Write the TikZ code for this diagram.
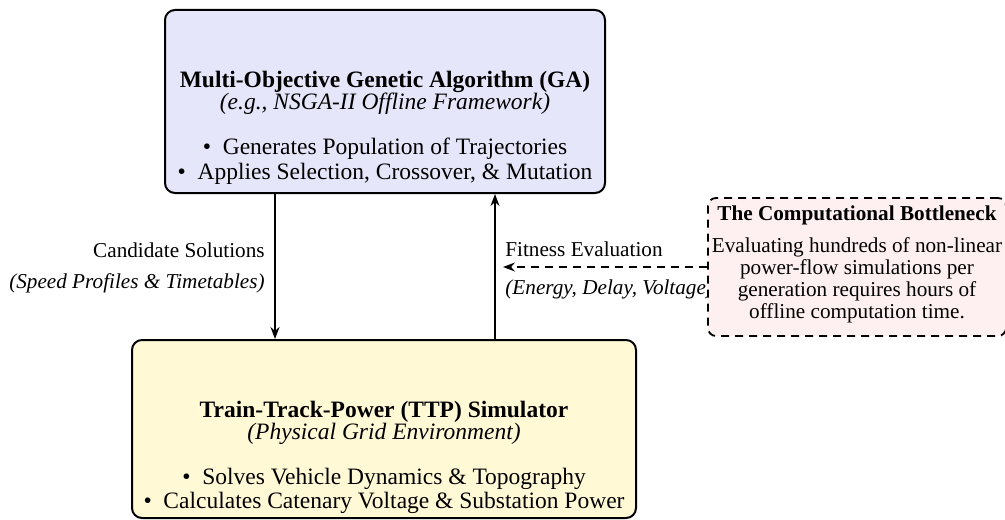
\documentclass[tikz,border=0pt]{standalone}
\usepackage{fontspec}
\setmainfont{Liberation Serif}
\usetikzlibrary{arrows.meta}
\definecolor{gafill}{RGB}{230,230,250}
\definecolor{ttpfill}{RGB}{255,249,214}
\definecolor{bnfill}{RGB}{254,240,240}
\tikzset{
  mainbox/.style={draw=black, line width=1pt, rounded corners=5pt, inner sep=0pt},
  bnbox/.style={draw=black, line width=0.9pt, dash pattern=on 4pt off 3pt, rounded corners=4pt, fill=bnfill, inner sep=0pt},
  bigtxt/.style={font=\fontsize{11.75}{12}\selectfont, inner sep=0pt, anchor=base},
  smalltxt/.style={font=\fontsize{10.6}{11}\selectfont, inner sep=0pt, anchor=base},
  flow/.style={line width=0.8pt, -{Stealth[length=6pt,width=4.5pt]}},
  dflow/.style={line width=0.8pt, dash pattern=on 4pt off 3pt, -{Stealth[length=6pt,width=4.5pt]}},
}
\begin{document}
\begin{tikzpicture}[x=0.5pt,y=-0.5pt]
\useasboundingbox (0,0) rectangle (1005,519);
% GA box
\node[mainbox, fill=gafill, minimum width=220pt, minimum height=91.5pt] (ga) at (385,101.5) {};
\node[bigtxt] (gat) at (385,88) {\textbf{Multi-Objective Genetic Algorithm (GA)}};
\node[bigtxt] (gas) at (385,110) {\textit{(e.g., NSGA-II Offline Framework)}};
\node[bigtxt] (gab1) at (385,155) {\textbullet\ \ Generates Population of Trajectories};
\node[bigtxt] (gab2) at (385,179) {\textbullet\ \ Applies Selection, Crossover, \& Mutation};
% TTP box
\node[mainbox, fill=ttpfill, minimum width=252pt, minimum height=89pt] (ttp) at (384,429) {};
\node[bigtxt] (ttpt) at (384,417) {\textbf{Train-Track-Power (TTP) Simulator}};
\node[bigtxt] (ttps) at (384,439) {\textit{(Physical Grid Environment)}};
\node[bigtxt] (ttpb1) at (384,484) {\textbullet\ \ Solves Vehicle Dynamics \& Topography};
\node[bigtxt] (ttpb2) at (384,508) {\textbullet\ \ Calculates Catenary Voltage \& Substation Power};
% arrows
\coordinate (lx) at (275,0);
\coordinate (rx) at (495,0);
\draw[flow] (ga.south -| lx) -- (ttp.north -| lx);
\draw[flow] (ttp.north -| rx) -- (ga.south -| rx);
% labels
\node[smalltxt, anchor=base east] (cs1) at (265,257) {Candidate Solutions};
\node[smalltxt, anchor=base east] (cs2) at (265,288) {\textit{(Speed Profiles \& Timetables)}};
\node[smalltxt, anchor=base west] (fe1) at (505,256) {Fitness Evaluation};
\node[smalltxt, anchor=base west] (fe2) at (505,294) {\textit{(Energy, Delay, Voltage)}};
% bottleneck box
\node[bnbox, minimum width=149pt, minimum height=69pt] (bn) at (857,267) {};
\node[smalltxt] (bnt) at (857,220) {\textbf{The Computational Bottleneck}};
\node[smalltxt] (bn1) at (857,252) {Evaluating hundreds of non-linear};
\node[smalltxt] (bn2) at (857,274) {power-flow simulations per};
\node[smalltxt] (bn3) at (857,296) {generation requires hours of};
\node[smalltxt] (bn4) at (857,318) {offline computation time.};
\coordinate (de) at (503,267);
\draw[dflow] (bn.west) -- (de);
\end{tikzpicture}
\end{document}
